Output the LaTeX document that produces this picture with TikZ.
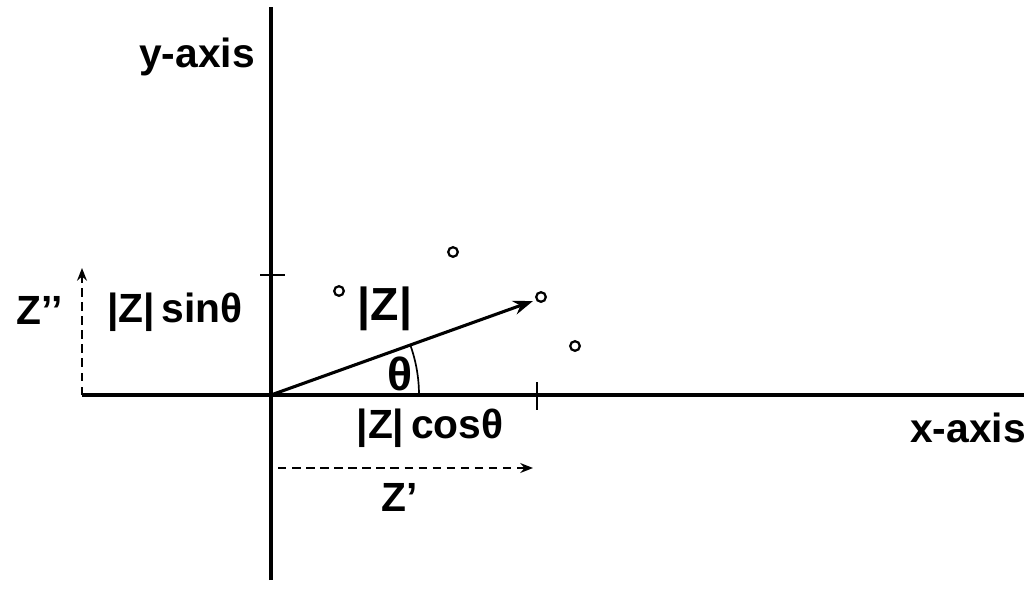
\documentclass[tikz,border=0pt]{standalone}
\usepackage{fontspec}
\setmainfont{Liberation Sans}
\usetikzlibrary{arrows.meta}

\begin{document}
\begin{tikzpicture}[x=0.025cm,y=0.025cm,
  lbl/.style={font=\fontsize{29}{31}\selectfont\bfseries, inner sep=0pt},
  big/.style={font=\fontsize{33}{35}\selectfont\bfseries, inner sep=0pt},
  axis/.style={line width=2.8pt},
  tick/.style={line width=1.4pt},
  proj/.style={dashed, line width=1.5pt, dash pattern=on 6pt off 4pt, -{Stealth[length=9pt,width=7pt]}},
  spot/.style={circle, draw, line width=1.6pt, minimum size=0.24cm, inner sep=0pt}]
\useasboundingbox (-271,-193) rectangle (753,395);

% axes
\coordinate (O) at (0,0);
\coordinate (xl) at (-189,0);
\coordinate (xr) at (753,0);
\coordinate (yb) at (0,-185);
\coordinate (yt) at (0,388);
\draw[axis] (xl) -- (xr);
\draw[axis] (yb) -- (yt);
\node[lbl] (xlab) at (697,-33) {x-axis};
\node[lbl] (ylab) at (-74,338) {y-axis};

% ticks for the projections
\coordinate (ty1) at (-11,120);
\coordinate (ty2) at (14,120);
\coordinate (tx1) at (266,13);
\coordinate (tx2) at (266,-15);
\draw[tick] (ty1) -- (ty2);
\draw[tick] (tx1) -- (tx2);

% the vector and its angle
\coordinate (tip) at (262,94);
\draw[line width=2.2pt, -{Stealth[length=14pt,width=10pt]}] (O) -- (tip);
\draw[line width=1.2pt] (148,0) arc[start angle=0, end angle=19.7, radius=148];
\node[big] (theta) at (129,21) {θ};
\node[big] (modz) at (114,86) {|Z|};

% scattered points
\node[spot] (p1) at (182,143) {};
\node[spot] (p2) at (68,104) {};
\node[spot] (p3) at (270,98) {};
\node[spot] (p4) at (304,49) {};

% components
\node[lbl] (sinz) at (-96,83) {|Z|\,sinθ};
\node[lbl] (cosz) at (159,-33) {|Z|\,cosθ};
\coordinate (zpa) at (7,-73);
\coordinate (zpb) at (262,-73);
\draw[proj] (zpa) -- (zpb);
\node[lbl] (zp) at (129,-102) {Z’};
\coordinate (zqa) at (-189,0);
\coordinate (zqb) at (-189,127);
\draw[proj] (zqa) -- (zqb);
\node[lbl] (zq) at (-231,85) {Z’’};
\end{tikzpicture}
\end{document}
